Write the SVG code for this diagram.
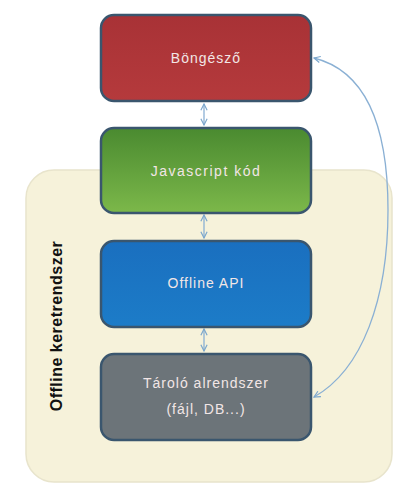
<svg xmlns="http://www.w3.org/2000/svg" width="396" height="490" viewBox="0 0 396 490">
<defs>
<linearGradient id="gGreen" x1="0" y1="0" x2="0" y2="1"><stop offset="0" stop-color="#4a8a30"/><stop offset="1" stop-color="#7cb84a"/></linearGradient>
<linearGradient id="gRed" x1="0" y1="0" x2="0" y2="1"><stop offset="0" stop-color="#a83236"/><stop offset="1" stop-color="#b53a3c"/></linearGradient>
<linearGradient id="gBlue" x1="0" y1="0" x2="0" y2="1"><stop offset="0" stop-color="#1a6fbf"/><stop offset="1" stop-color="#1c7cc8"/></linearGradient>
<marker id="ah" viewBox="0 0 10 10" refX="9" refY="5" markerWidth="6" markerHeight="6" orient="auto-start-reverse"><path d="M1,1 L9,5 L1,9" fill="none" stroke="#7aa6cc" stroke-width="1.5"/></marker>
<style>
.box{stroke:#3a566e;stroke-width:2.5}
.lbl{font-family:"Liberation Sans",Arial,sans-serif;font-size:14px;fill:#f2e6e6;text-anchor:middle;dominant-baseline:middle;letter-spacing:1px}
.con{fill:none;stroke:#8ab0d4;stroke-width:1.3}
</style>
</defs>
<rect width="396" height="490" fill="#ffffff"/>
<g id="frame">
<rect x="26" y="170" width="366" height="312" rx="28" fill="#f6f2da" stroke="#e8e4cc" stroke-width="1.5"/>
<text x="58" y="326" transform="rotate(-90 58 326)" font-family="'Liberation Sans',Arial,sans-serif" font-size="16" font-weight="bold" fill="#111" text-anchor="middle" dominant-baseline="middle" letter-spacing="0.5">Offline keretrendszer</text>
</g>
<g id="connectors">
<line class="con" x1="204" y1="104" x2="204" y2="125" marker-start="url(#ah)" marker-end="url(#ah)"/>
<line class="con" x1="204" y1="215" x2="204" y2="238" marker-start="url(#ah)" marker-end="url(#ah)"/>
<line class="con" x1="204" y1="329" x2="204" y2="351" marker-start="url(#ah)" marker-end="url(#ah)"/>
<path class="con" d="M314,397 C362,370 388,300 388,210 C388,120 362,70 314,58" marker-start="url(#ah)" marker-end="url(#ah)"/>
</g>
<g id="browser">
<rect class="box" x="101" y="15" width="210" height="86" rx="13" fill="url(#gRed)"/>
<text class="lbl" x="206" y="59">Böngésző</text>
</g>
<g id="jscode">
<rect class="box" x="101" y="128" width="210" height="85" rx="13" fill="url(#gGreen)"/>
<text class="lbl" x="206" y="172" fill="#e4ecd8" style="letter-spacing:1.5px">Javascript kód</text>
</g>
<g id="offlineapi">
<rect class="box" x="101" y="241" width="210" height="86" rx="13" fill="url(#gBlue)"/>
<text class="lbl" x="206" y="284">Offline API</text>
</g>
<g id="storage">
<rect class="box" x="101" y="354" width="210" height="86" rx="13" fill="#6c7479"/>
<text class="lbl" x="206" y="384" fill="#d8dcde">Tároló alrendszer</text>
<text class="lbl" x="206" y="410" fill="#d8dcde">(fájl, DB...)</text>
</g>
</svg>
